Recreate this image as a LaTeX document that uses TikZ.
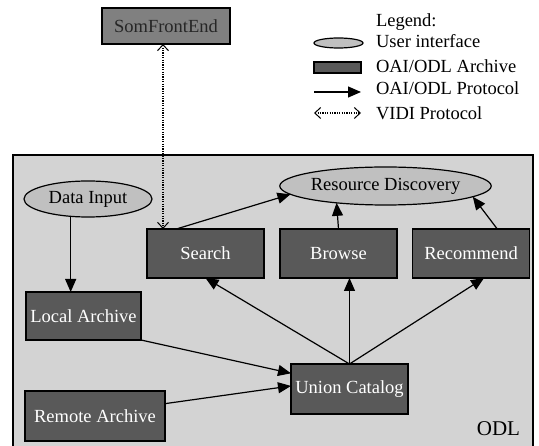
\documentclass[tikz,border=0pt]{standalone}
\usepackage{fontspec}
\setmainfont{Liberation Serif}
\usetikzlibrary{arrows.meta,shapes.geometric}
\definecolor{odlbg}{HTML}{D3D3D3}
\definecolor{uifill}{HTML}{C0C0C0}
\definecolor{arcfill}{HTML}{595959}
\definecolor{frontfill}{HTML}{808080}
\begin{document}
\begin{tikzpicture}[x=1pt,y=-1pt,
  every node/.style={font=\fontsize{18.5}{22}\selectfont, inner sep=0pt, outer sep=0pt},
  arcbox/.style={draw=black, line width=1.2pt, fill=arcfill, text=white, rectangle},
  uibox/.style={draw=black, line width=1.2pt, fill=uifill, ellipse, text=black},
  frontbox/.style={draw=black, line width=1.2pt, fill=frontfill, text=black!85},
  oai/.style={line width=1.2pt, -{Triangle[length=13pt,width=11pt]}},
  vidi/.style={line width=1.3pt, dash pattern=on 1.2pt off 1.2pt,
    {Straight Barb[length=6pt,width=11pt,line width=1pt]}-{Straight Barb[length=6pt,width=11pt,line width=1pt]}},
  lgtext/.style={anchor=west, text height=13pt, text depth=4pt}]
\useasboundingbox (0,0) rectangle (539,446);
% ODL cluster
\fill[odlbg] (13,155) rectangle (533,452);
\draw[line width=1.2pt] (13,452) -- (13,155) -- (533,155) -- (533,452);
\node[font=\fontsize{21}{24}\selectfont] (odl) at (498.5,429) {ODL};
% nodes
\node[frontbox, minimum width=128pt, minimum height=36pt] (sfe) at (166,26) {SomFrontEnd};
\node[uibox, minimum width=128pt, minimum height=36pt] (di) at (88,199) {Data Input};
\node[uibox, minimum width=209pt, minimum height=38pt] (rd) at (385.5,186) {Resource Discovery};
\node[arcbox, minimum width=117pt, minimum height=49pt] (search) at (205.5,253.5) {Search};
\node[arcbox, minimum width=117pt, minimum height=49pt] (browse) at (338.5,253.5) {Browse};
\node[arcbox, minimum width=117pt, minimum height=49pt] (recommend) at (471,253.5) {Recommend};
\node[arcbox, minimum width=115pt, minimum height=48pt] (local) at (83.5,316) {Local Archive};
\node[arcbox, minimum width=117pt, minimum height=50pt] (union) at (349.5,389) {Union Catalog};
\node[arcbox, minimum width=140pt, minimum height=50pt] (remote) at (95,416) {Remote Archive};
% legend
\node[lgtext] (lgt) at (376,22) {Legend:};
\node[uibox, minimum width=49pt, minimum height=10pt] (lgui) at (338.5,43) {};
\node[lgtext] (lguit) at (376,43) {User interface};
\node[arcbox, minimum width=47pt, minimum height=11pt] (lgarc) at (337.5,67.5) {};
\node[lgtext] (lgarct) at (376,68) {OAI/ODL Archive};
\coordinate (lgo1) at (314,92);
\coordinate (lgo2) at (361,92);
\draw[oai] (lgo1) -- (lgo2);
\node[lgtext] (lgot) at (376,90) {OAI/ODL Protocol};
\coordinate (lgv1) at (314,113);
\coordinate (lgv2) at (361,113);
\draw[vidi] (lgv1) -- (lgv2);
\node[lgtext] (lgvt) at (376,115) {VIDI Protocol};
% edges
\draw[oai] (di.225.6) -- (di.225.6 |- local.north);
\draw[oai] (search.140) -- (rd.185);
\draw[oai] (browse.north) -- (rd.199.6);
\draw[oai] (recommend.43) -- (rd.353.6);
\draw[oai] (union.north) -- (search.south);
\draw[oai] (union.north) -- (union.north |- browse.south);
\draw[oai] (union.north) -- (recommend.298);
\draw[oai] (local.south east) -- (union.165.5);
\draw[oai] (remote.10) -- (union.177);
\draw[vidi] ([xshift=-3pt]sfe.south) -- ([xshift=-3pt]sfe.south |- search.north);
\end{tikzpicture}
\end{document}
